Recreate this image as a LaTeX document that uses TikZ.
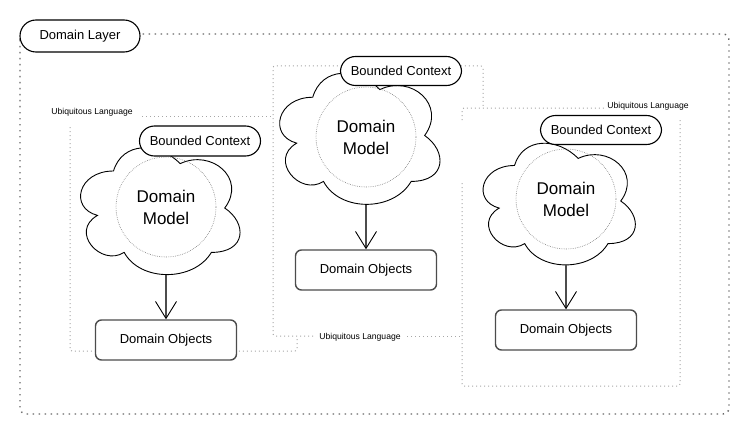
\documentclass[tikz,border=0pt]{standalone}
\usepackage{fontspec}
\setmainfont{Liberation Sans}
\usetikzlibrary{calc,arrows.meta}

\tikzset{
  layer/.style={draw=black!60, line width=1.4pt, dash pattern=on 1.4pt off 4.6pt, rounded corners=6pt},
  ulang/.style={draw=black!35, line width=1pt, dash pattern=on 1pt off 3pt, rounded corners=2pt},
  ulabel/.style={inner sep=0pt, font=\fontsize{8.6}{10}\selectfont},
  cloudline/.style={draw=black, fill=white, line width=0.9pt},
  pill/.style={draw=black, fill=white, line width=1.1pt, rounded corners=15pt,
    minimum width=121pt, minimum height=30pt, inner sep=0pt, font=\fontsize{13}{15}\selectfont},
  dmodel/.style={circle, draw=black!55, line width=0.6pt, dash pattern=on 0.6pt off 1.2pt,
    minimum size=100pt, inner sep=0pt, align=center, font=\fontsize{17}{22}\selectfont},
  dobj/.style={draw=black!70, fill=white, line width=1.4pt, rounded corners=6pt,
    minimum width=141pt, minimum height=40pt, inner sep=0pt, font=\fontsize{13}{15}\selectfont},
  link/.style={draw=black!70, line width=1.4pt, -{Straight Barb[length=17pt,width=21pt,line width=0.9pt,color=black]}}
}

% cloud outline: x0, y0, width, height
\newcommand{\mxcloud}[4]{%
  \begin{scope}[shift={(#1,#2)},x=#3pt,y=-#4pt]
    \path[cloudline] (0.25,0.25) .. controls (0.05,0.25) and (0,0.5) .. (0.16,0.55)
      .. controls (0,0.66) and (0.18,0.9) .. (0.31,0.8)
      .. controls (0.4,1) and (0.7,1) .. (0.8,0.8)
      .. controls (1,0.8) and (1,0.6) .. (0.875,0.5)
      .. controls (1,0.3) and (0.8,0.1) .. (0.625,0.2)
      .. controls (0.5,0.05) and (0.3,0.05) .. (0.25,0.25) -- cycle;
  \end{scope}}

\begin{document}
\begin{tikzpicture}[x=1pt,y=-1pt]
    \useasboundingbox (0,0) rectangle (750,436);

    % Domain layer frame
    \draw[layer] (20,34) rectangle (729,414);
    \node[pill, minimum width=120pt, minimum height=32pt, rounded corners=16pt] (layer) at (80,36) {Domain Layer};

    % Ubiquitous language frames (left, middle, right)
    \draw[ulang] (142,116) -- (272,116);
    \draw[ulang] (70,127) -- (70,351) -- (297,351) -- (297,339);
    \draw[ulang] (313,336) -- (273,336) -- (273,66) -- (483,66) -- (483,107);
    \draw[ulang] (407,336) -- (461,336);
    \draw[ulang] (462,120) -- (462,108) -- (604,108);
    \draw[ulang] (680,120) -- (680,386) -- (462,386) -- (462,183);
    \node[ulabel] (ul1) at (92,112) {Ubiquitous Language};
    \node[ulabel] (ul2) at (360,337) {Ubiquitous Language};
    \node[ulabel] (ul3) at (648,106) {Ubiquitous Language};

    % Left bounded context
    \mxcloud{69}{134}{178}{148}
    \coordinate (cb1) at (166,275);
    \node[dmodel] (dm1) at (166,207) {Domain\\Model};
    \node[pill] (bc1) at (200,141) {Bounded Context};
    \node[dobj] (do1) at (166,340) {Domain Objects};
    \draw[link] (cb1) -- (do1.north);

    % Middle bounded context
    \mxcloud{268}{59}{179}{153}
    \coordinate (cb2) at (366,205);
    \node[dmodel] (dm2) at (366,137) {Domain\\Model};
    \node[pill, minimum height=29pt] (bc2) at (401,71) {Bounded Context};
    \node[dobj] (do2) at (366,270) {Domain Objects};
    \draw[link] (cb2) -- (do2.north);

    % Right bounded context
    \mxcloud{472}{130}{170}{142}
    \coordinate (cb3) at (566,265);
    \node[dmodel] (dm3) at (566,199) {Domain\\Model};
    \node[pill, minimum height=29pt] (bc3) at (601,130) {Bounded Context};
    \node[dobj] (do3) at (566,330) {Domain Objects};
    \draw[link] (cb3) -- (do3.north);
\end{tikzpicture}
\end{document}
